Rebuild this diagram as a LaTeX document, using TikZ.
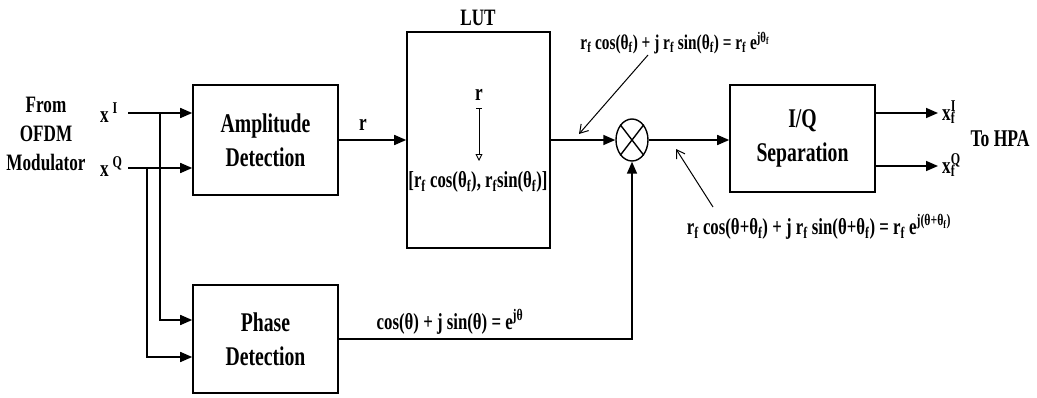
\documentclass[tikz,border=0pt]{standalone}
\usepackage{fontspec}
\setmainfont{Liberation Serif}[FakeStretch=0.73]
\usetikzlibrary{arrows.meta,shapes.geometric}
\tikzset{
  blk/.style={draw,line width=1.6pt,minimum width=145pt,align=center,inner sep=0pt,font=\fontsize{27}{34}\selectfont\bfseries},
  lbl/.style={inner sep=0pt,font=\fontsize{23.5}{29}\selectfont\bfseries,align=center},
  eq/.style={inner sep=0pt,font=\fontsize{23}{26}\selectfont\bfseries},
  arr/.style={line width=1.6pt,-{Triangle[length=12pt,width=10pt]}},
  wire/.style={line width=1.6pt},
  pointer/.style={line width=1pt,-{Straight Barb[length=8pt,width=10pt]}}
}
\newcommand{\sub}[1]{\textsubscript{#1}}
\newcommand{\supr}[1]{\textsuperscript{#1}}
\begin{document}
\begin{tikzpicture}[x=1pt,y=-1pt]
\useasboundingbox (0,0) rectangle (1037,397);
% blocks
\node[blk,minimum height=110pt] (amp) at (265.5,140) {Amplitude\\Detection};
\node[blk,minimum height=108pt] (phase) at (265.5,339) {Phase\\Detection};
\node[blk,minimum width=143pt,minimum height=216pt] (lut) at (478.5,140) {};
\node[blk,minimum height=107pt] (iq) at (802.5,138.5) {I/Q\\Separation};
\node[draw,line width=1.4pt,ellipse,minimum width=32pt,minimum height=42pt,inner sep=0pt] (mul) at (632,140) {};
\draw[line width=1.4pt] (mul.north west) -- (mul.south east) (mul.north east) -- (mul.south west);
% labels
\node[lbl] (src) at (46,134) {From\\OFDM\\Modulator};
\node[lbl,anchor=west] (xI) at (100,113) {x\,\supr{I}};
\node[lbl,anchor=west] (xQ) at (100,167) {x\,\supr{Q}};
\node[lbl] (lutname) at (478,18) {LUT};
\node[lbl] (rlab) at (363,125) {r};
\node[lbl] (rin) at (479,95) {r};
\node[eq] (lutout) at (478,182) {[r\sub{f} cos(θ\sub{f}), r\sub{f}sin(θ\sub{f})]};
\node[eq,font=\fontsize{21}{24}\selectfont\bfseries] (eqtop) at (675,43) {r\sub{f} cos(θ\sub{f}) + j r\sub{f} sin(θ\sub{f}) = r\sub{f} e\supr{jθ\sub{f}}};
\node[eq] (eqbot) at (819,227) {r\sub{f} cos(θ+θ\sub{f}) + j r\sub{f} sin(θ+θ\sub{f}) = r\sub{f} e\supr{j(θ+θ\sub{f})}};
\node[eq] (eqph) at (450,322) {cos(θ) + j sin(θ) = e\supr{jθ}};
\node[lbl,anchor=west] (yI) at (942,112) {x\rlap{\sub{f}}\supr{I}};
\node[lbl,anchor=west] (yQ) at (942,165) {x\rlap{\sub{f}}\supr{Q}};
\node[lbl,font=\fontsize{24}{29}\selectfont\bfseries] (hpa) at (1000,139) {To HPA};
% coordinates
\coordinate (ci) at (128,113);
\coordinate (cq) at (128,168);
\coordinate (bi) at (160,113);
\coordinate (bq) at (147,168);
\coordinate (pi) at (160,320);
\coordinate (pq) at (147,357);
\coordinate (pc) at (632,339);
\coordinate (oi) at (938,113);
\coordinate (oq) at (938,166);
\coordinate (rt) at (479,108);
\coordinate (rb) at (479,161);
\coordinate (pt1) at (648,55);
\coordinate (ph1) at (579,134);
\coordinate (pt2) at (713,207);
\coordinate (ph2) at (676,149);
% connectors
\draw[arr] (ci) -- (amp.west |- ci);
\draw[arr] (cq) -- (amp.west |- cq);
\draw[arr] (bi) -- (pi) -- (phase.west |- pi);
\draw[arr] (bq) -- (pq) -- (phase.west |- pq);
\draw[arr] (amp.east) -- (lut.west);
\draw[arr] (lut.east) -- (mul.west);
\draw[arr] (mul.east) -- (iq.west |- mul.east);
\draw[arr] (phase.east |- pc) -- (pc) -- (mul.south);
\draw[arr] (iq.east |- oi) -- (oi);
\draw[arr] (iq.east |- oq) -- (oq);
\draw[line width=0.9pt,{Bar[width=6pt]}-{Triangle[open,length=7pt,width=7pt]}] (rt) -- (rb);
\draw[pointer] (pt1) -- (ph1);
\draw[pointer] (pt2) -- (ph2);
\end{tikzpicture}
\end{document}
